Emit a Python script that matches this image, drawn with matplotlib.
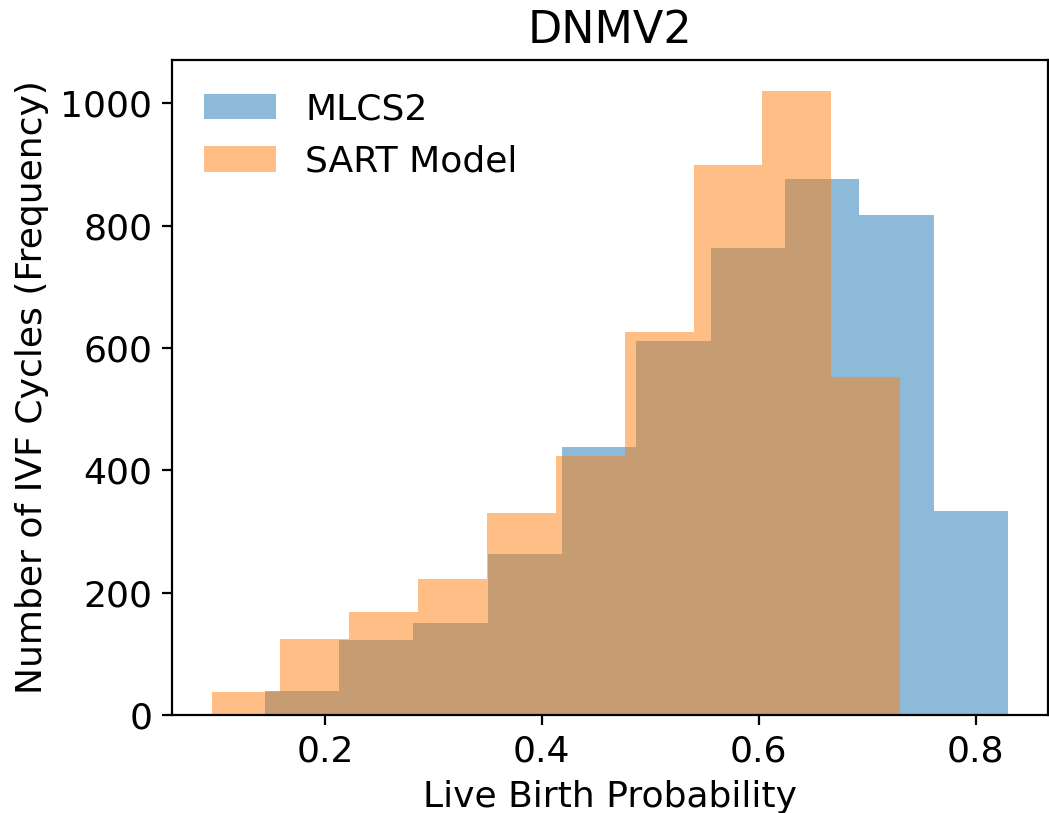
import numpy as np
import matplotlib.pyplot as plt

# histogram counts (10 bins each)
mlcs2_counts = [40, 122, 151, 264, 438, 612, 763, 876, 818, 334]
mlcs2_range = (0.1446, 0.8297)
sart_counts = [38, 125, 168, 223, 331, 424, 626, 899, 1020, 553]
sart_range = (0.0955, 0.7304)

fs = 13

def centers(rng, n):
    e = np.linspace(rng[0], rng[1], n + 1)
    return (e[:-1] + e[1:]) / 2

fig = plt.figure(figsize=(5.245, 4.065), dpi=200)
ax = fig.add_axes([0.1637, 0.1205, 0.9988 - 0.1637, 0.9262 - 0.1205])

ax.hist(centers(mlcs2_range, 10), bins=10, range=mlcs2_range,
        weights=mlcs2_counts, alpha=0.5, label="MLCS2")
ax.hist(centers(sart_range, 10), bins=10, range=sart_range,
        weights=sart_counts, alpha=0.5, label="SART Model")

ax.set_xticks([0.2, 0.4, 0.6, 0.8])
ax.set_yticks([0, 200, 400, 600, 800, 1000])
ax.tick_params(labelsize=fs)
ax.set_xlabel("Live Birth Probability", fontsize=fs)
ax.set_ylabel("Number of IVF Cycles (Frequency)", fontsize=fs)
ax.set_title("DNMV2", fontsize=16)
ax.legend(loc="upper left", fontsize=fs, frameon=False)

fig.savefig("out.png", dpi=200)
